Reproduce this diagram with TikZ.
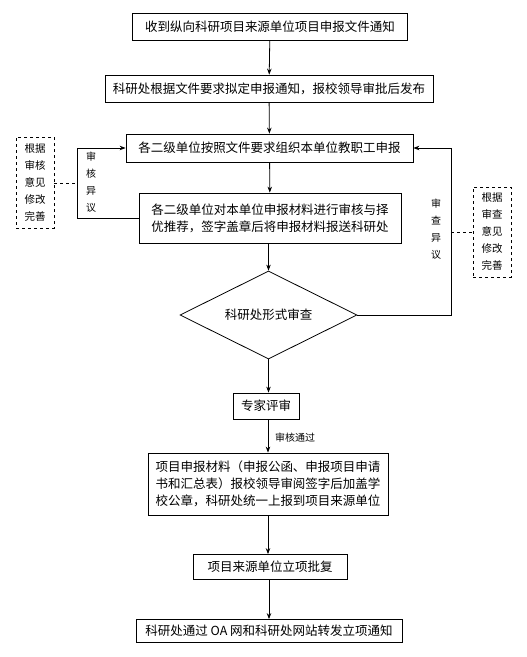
\documentclass[tikz,border=0pt]{standalone}
\usepackage{fontspec}
\setmainfont{Noto Sans CJK SC}
\usetikzlibrary{shapes.geometric,arrows.meta}
\begin{document}
\begin{tikzpicture}[x=1pt,y=-1pt,
  box/.style={draw,thick,inner sep=0pt,font=\fontsize{12.5}{17}\selectfont,align=center},
  note/.style={draw,thick,dashed,inner sep=0pt,font=\fontsize{10.5}{17}\selectfont,align=center,minimum width=38pt},
  lab/.style={inner sep=0pt,font=\fontsize{10}{17}\selectfont,align=center},
  arr/.style={thick,-{Stealth[length=6pt,width=4.5pt]}},
  ln/.style={thick},
  dl/.style={thick,dashed}]
\useasboundingbox (0,0) rectangle (527,657);
\node[box,minimum width=275pt,minimum height=27pt] (b1) at (270,26.5) {收到纵向科研项目来源单位项目申报文件通知};
\node[box,minimum width=328pt,minimum height=27pt] (b2) at (269,88.5) {科研处根据文件要求拟定申报通知，报校领导审批后发布};
\node[box,minimum width=287pt,minimum height=28pt] (b3) at (269.5,148) {各二级单位按照文件要求组织本单位教职工申报};
\node[box,minimum width=262pt,minimum height=50pt] (b4) at (270,218) {各二级单位对本单位申报材料进行审核与择\\优推荐，签字盖章后将申报材料报送科研处};
\node[draw,thick,diamond,aspect=2,inner sep=0pt,minimum width=177pt,minimum height=88pt,font=\fontsize{12.5}{17}\selectfont] (d) at (268.5,315) {科研处形式审查};
\node[box,minimum width=66pt,minimum height=26pt] (b5) at (266,406) {专家评审};
\node[box,minimum width=240pt,minimum height=62pt] (b6) at (268,484) {项目申报材料（申报公函、申报项目申请\\书和汇总表）报校领导审阅签字后加盖学\\校公章，科研处统一上报到项目来源单位};
\node[box,minimum width=154pt,minimum height=25pt] (b7) at (270,567) {项目来源单位立项批复};
\node[box,minimum width=266pt,minimum height=23pt] (b8) at (269,631) {科研处通过 OA 网和科研处网站转发立项通知};
\node[note,minimum height=91pt] (n1) at (35,182.5) {根据\\审核\\意见\\修改\\完善};
\node[note,minimum height=90pt] (n2) at (492,232) {根据\\审查\\意见\\修改\\完善};
\node[lab] (l1) at (91,182) {审\\核\\异\\议};
\node[lab] (l2) at (436,229) {审\\查\\异\\议};
\node[lab,anchor=west] (l3) at (275,438) {审核通过};
\coordinate (c1) at (77,218);
\coordinate (c2) at (77,148);
\coordinate (c3) at (451,315);
\coordinate (c4) at (451,148);
\coordinate (c5) at (77,183);
\coordinate (c6) at (451,232);
\draw[arr] (b1) -- (b2);
\draw[arr] (b2) -- (b3);
\draw[arr] (b3) -- (b4);
\draw[arr] (b4.south -| d.north) -- (d.north);
\draw[arr] (d.south) -- (d.south |- b5.north);
\draw[arr] (b5.south -| b6.north) -- (b6.north);
\draw[arr] (b6) -- (b6.south |- b7.north);
\draw[arr] (b7.south -| b8.north) -- (b8.north);
\draw[ln] (b4.west |- c1) -- (c1) -- (c2);
\draw[arr] (c2) -- (b3.west);
\draw[ln] (d.east) -- (c3) -- (c4);
\draw[arr] (c4) -- (b3.east);
\draw[dl] (n1.east |- c5) -- (c5);
\draw[dl] (c6) -- (n2.west |- c6);
\end{tikzpicture}
\end{document}
